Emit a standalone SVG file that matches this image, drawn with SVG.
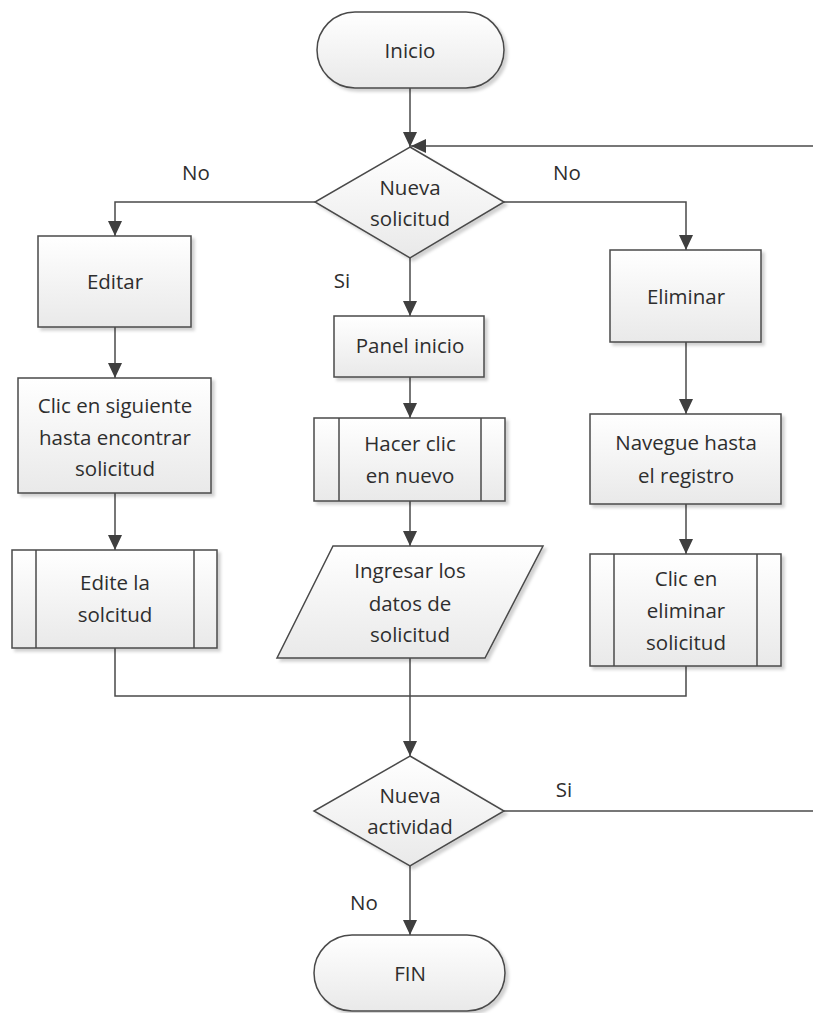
<svg xmlns="http://www.w3.org/2000/svg" width="813" height="1013" viewBox="0 0 813 1013">
  <defs>
    <linearGradient id="fillGrad" x1="0" y1="0" x2="0" y2="1">
      <stop offset="0" stop-color="#ffffff"/>
      <stop offset="1" stop-color="#e9e9e9"/>
    </linearGradient>
    <filter id="shadow" x="-10%" y="-10%" width="125%" height="130%">
      <feDropShadow dx="3" dy="3" stdDeviation="1.5" flood-color="#000" flood-opacity="0.18"/>
    </filter>
    <marker id="arrow" markerUnits="userSpaceOnUse" markerWidth="16" markerHeight="16" viewBox="0 0 16 16" refX="15" refY="8" orient="auto">
      <path d="M0,1 L15,8 L0,15 Z" fill="#3f3f3f"/>
    </marker>
  </defs>
  <style>
    .shape { fill: url(#fillGrad); stroke: #4a4a4a; stroke-width: 1.5; filter: url(#shadow); }
    .inner { fill: none; stroke: #4a4a4a; stroke-width: 1.5; }
    .conn { fill: none; stroke: #4a4a4a; stroke-width: 1.5; }
    .arr { marker-end: url(#arrow); }
    text { font-family: "Open Sans", "Liberation Sans", Arial, sans-serif; font-size: 20.5px; fill: #2e2e2e; text-anchor: middle; dominant-baseline: central; }
  </style>

  <rect width="813" height="1013" fill="#ffffff"/>

  <!-- connectors -->
  <g id="connectors">
    <path class="conn arr" d="M410,88 V147"/>
    <path class="conn arr" d="M813,146 H411"/>
    <path class="conn arr" d="M315,202 H115 V236"/>
    <path class="conn arr" d="M115,327 V378"/>
    <path class="conn arr" d="M115,493 V550"/>
    <path class="conn arr" d="M410,258 V316"/>
    <path class="conn arr" d="M410,377 V418"/>
    <path class="conn arr" d="M410,501 V546"/>
    <path class="conn arr" d="M504,202 H686 V250"/>
    <path class="conn arr" d="M686,342 V414"/>
    <path class="conn arr" d="M686,504 V554"/>
    <path class="conn" d="M115,648 V696 H686 V666"/>
    <path class="conn arr" d="M410,658 V756"/>
    <path class="conn" d="M504,811 H813"/>
    <path class="conn arr" d="M410,866 V935"/>
    <text x="196" y="172">No</text>
    <text x="567" y="172">No</text>
    <text x="342" y="280">Si</text>
    <text x="564" y="789">Si</text>
    <text x="364" y="902">No</text>
  </g>

  <!-- start -->
  <g id="inicio">
    <rect class="shape" x="317" y="12" width="187" height="76" rx="38" ry="38"/>
    <text x="410" y="50">Inicio</text>
  </g>

  <!-- decision: new request -->
  <g id="nueva-solicitud">
    <polygon class="shape" points="410,147 504,202 410,258 315,202"/>
    <text x="410" y="187">Nueva</text>
    <text x="410" y="218">solicitud</text>
  </g>

  <!-- left branch -->
  <g id="editar">
    <rect class="shape" x="38" y="236" width="153" height="91"/>
    <text x="115" y="281">Editar</text>
  </g>
  <g id="clic-siguiente">
    <rect class="shape" x="18" y="378" width="193" height="115"/>
    <text x="115" y="405">Clic en siguiente</text>
    <text x="115" y="437">hasta encontrar</text>
    <text x="115" y="468">solicitud</text>
  </g>
  <g id="edite-solicitud">
    <rect class="shape" x="12" y="550" width="205" height="98"/>
    <line class="inner" x1="36" y1="550" x2="36" y2="648"/>
    <line class="inner" x1="194" y1="550" x2="194" y2="648"/>
    <text x="115" y="582">Edite la</text>
    <text x="115" y="614">solcitud</text>
  </g>

  <!-- center branch -->
  <g id="panel-inicio">
    <rect class="shape" x="334" y="316" width="150" height="61"/>
    <text x="410" y="345">Panel inicio</text>
  </g>
  <g id="hacer-clic">
    <rect class="shape" x="314" y="418" width="191" height="83"/>
    <line class="inner" x1="339" y1="418" x2="339" y2="501"/>
    <line class="inner" x1="481" y1="418" x2="481" y2="501"/>
    <text x="410" y="443">Hacer clic</text>
    <text x="410" y="475">en nuevo</text>
  </g>
  <g id="ingresar-datos">
    <polygon class="shape" points="333,546 543,546 485,658 277,658"/>
    <text x="410" y="570">Ingresar los</text>
    <text x="410" y="603">datos de</text>
    <text x="410" y="634">solicitud</text>
  </g>

  <!-- right branch -->
  <g id="eliminar">
    <rect class="shape" x="610" y="250" width="151" height="92"/>
    <text x="686" y="296">Eliminar</text>
  </g>
  <g id="navegue">
    <rect class="shape" x="590" y="414" width="191" height="90"/>
    <text x="686" y="442">Navegue hasta</text>
    <text x="686" y="475">el registro</text>
  </g>
  <g id="clic-eliminar">
    <rect class="shape" x="590" y="554" width="191" height="112"/>
    <line class="inner" x1="614" y1="554" x2="614" y2="666"/>
    <line class="inner" x1="757" y1="554" x2="757" y2="666"/>
    <text x="686" y="578">Clic en</text>
    <text x="686" y="610">eliminar</text>
    <text x="686" y="642">solicitud</text>
  </g>

  <!-- decision: new activity -->
  <g id="nueva-actividad">
    <polygon class="shape" points="410,756 504,811 410,866 314,811"/>
    <text x="410" y="795">Nueva</text>
    <text x="410" y="826">actividad</text>
  </g>

  <!-- end -->
  <g id="fin">
    <rect class="shape" x="314" y="935" width="191" height="76" rx="38" ry="38"/>
    <text x="410" y="973">FIN</text>
  </g>
</svg>
